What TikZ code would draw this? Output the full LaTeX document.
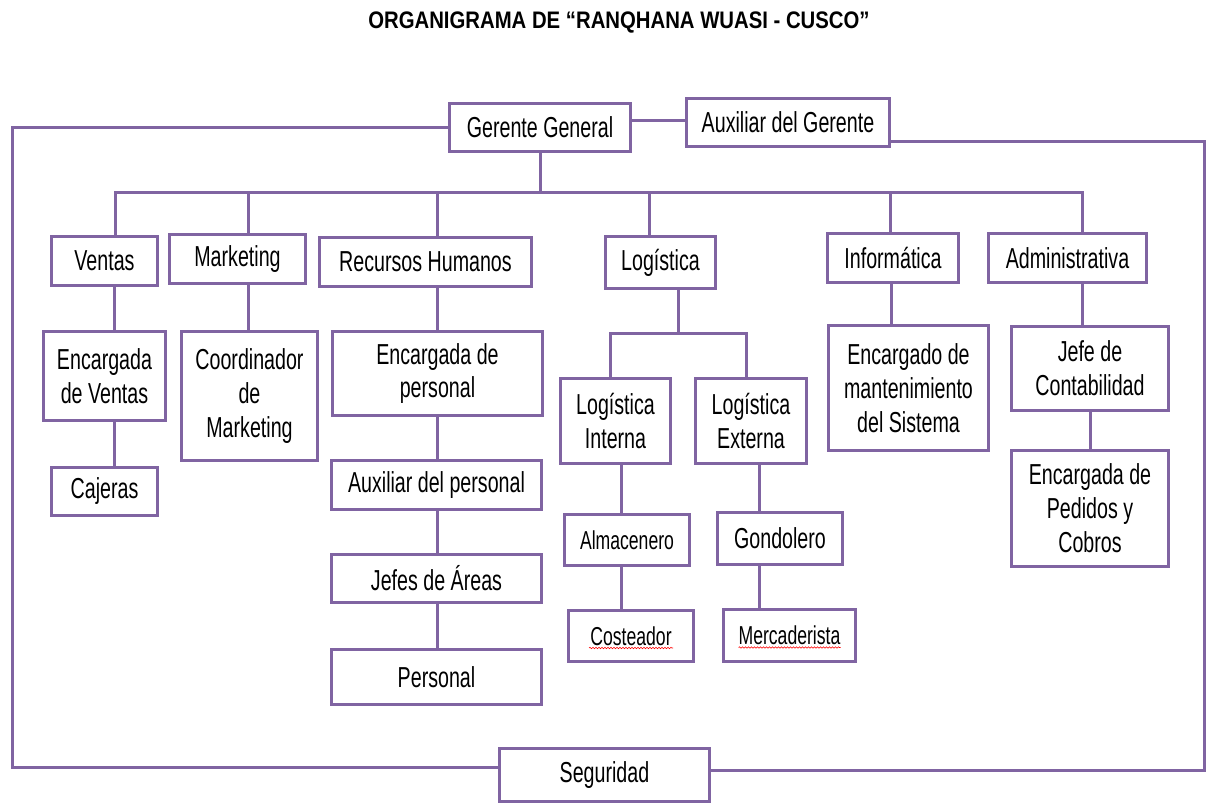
\documentclass[tikz,border=0pt]{standalone}
\usepackage{fontspec}
\setmainfont{Liberation Sans}[FakeStretch=0.68]
\newfontfamily\titlefont{Liberation Sans}[FakeStretch=0.85]
\usetikzlibrary{decorations.pathmorphing}
\definecolor{lila}{HTML}{8064A2}
\begin{document}
\begin{tikzpicture}[x=1bp,y=-1bp,
  box/.style={draw=lila, line width=3bp, inner sep=0pt, align=center,
    font=\fontsize{29}{34}\selectfont, text=black},
  sbox/.style={box, font=\fontsize{26}{30}\selectfont},
  link/.style={draw=lila, line width=3bp, line join=miter},
  wavy/.style={draw=red, line width=0.6bp, decorate,
    decoration={snake, amplitude=0.7bp, segment length=3bp}}]
\useasboundingbox (0,0) rectangle (1206,804);

\node[font=\titlefont\bfseries\fontsize{24}{28}\selectfont] (title) at (619,23)
  {ORGANIGRAMA DE “RANQHANA WUASI - CUSCO”};

% top level
\node[box, minimum width=181bp, minimum height=48bp] (gg) at (540,127.5) {Gerente General};
\node[box, minimum width=203bp, minimum height=48bp] (aux) at (788,122.5) {Auxiliar del Gerente};

% departments
\node[box, minimum width=106bp, minimum height=49bp] (ven) at (104.5,261) {Ventas};
\node[box, minimum width=136bp, minimum height=49bp] (mkt) at (237.5,259) {Marketing};
\node[box, minimum width=212bp, minimum height=49bp] (rh) at (425.5,262) {Recursos Humanos};
\node[box, minimum width=110bp, minimum height=52bp] (log) at (660.5,262.5) {Logística};
\node[box, minimum width=131bp, minimum height=49bp] (inf) at (893,258) {Informática};
\node[box, minimum width=158bp, minimum height=49bp] (adm) at (1067.5,258) {Administrativa};

% Ventas
\node[box, minimum width=122bp, minimum height=89bp] (encv) at (104.5,376) {Encargada\\de Ventas};
\node[box, minimum width=106bp, minimum height=48bp] (caj) at (104.5,491.5) {Cajeras};
% Marketing
\node[box, minimum width=136bp, minimum height=129bp] (coord) at (249.5,396) {Coordinador\\de\\Marketing};
% RRHH
\node[box, minimum width=210bp, minimum height=84bp] (encp) at (437.5,373.5) {Encargada de\\personal};
\node[box, minimum width=210bp, minimum height=49bp] (auxp) at (436.5,485) {Auxiliar del personal};
\node[box, minimum width=210bp, minimum height=48bp] (jefa) at (436.5,578.5) {Jefes de Áreas};
\node[box, minimum width=210bp, minimum height=55bp] (pers) at (436.5,677) {Personal};
% Logistica
\node[box, minimum width=110bp, minimum height=85bp] (logi) at (615.5,421) {Logística\\Interna};
\node[box, minimum width=111bp, minimum height=85bp] (loge) at (751,421) {Logística\\Externa};
\node[sbox, minimum width=125bp, minimum height=51bp] (alm) at (627,540) {Almacenero};
\node[box, minimum width=125bp, minimum height=52bp] (gon) at (780,538.5) {Gondolero};
\node[sbox, minimum width=125bp, minimum height=51bp] (cost) at (631,636) {Costeador};
\node[sbox, minimum width=132bp, minimum height=52bp] (merc) at (789.5,635.5) {Mercaderista};
% Informatica
\node[box, minimum width=160bp, minimum height=125bp] (encm) at (908.5,388) {Encargado de\\mantenimiento\\del Sistema};
% Administrativa
\node[box, minimum width=157bp, minimum height=84bp] (jefc) at (1090,368.5) {Jefe de\\Contabilidad};
\node[box, minimum width=157bp, minimum height=116bp] (ped) at (1090,508.5) {Encargada de\\Pedidos y\\Cobros};
% Seguridad
\node[box, minimum width=210bp, minimum height=53bp] (seg) at (604.5,775) {Seguridad};

% spell-check underlines
\draw[wavy] ([shift={(-42bp,-12bp)}]cost.center) -- ([shift={(42bp,-12bp)}]cost.center);
\draw[wavy] ([shift={(-51bp,-12bp)}]merc.center) -- ([shift={(51bp,-12bp)}]merc.center);

% main bus
\coordinate (bL) at (115,192);
\coordinate (bR) at (1082,192);
\coordinate (dM) at (248,192);
\coordinate (dR) at (437,192);
\coordinate (dLg) at (649,192);
\coordinate (dI) at (890,192);
\draw[link] (gg.south) -- (gg.south |- bL);
\draw[link] (ven.north -| bL) -- (bL) -- (bR) -- (adm.north -| bR);
\draw[link] (dM) -- (mkt.north -| dM);
\draw[link] (dR) -- (rh.north -| dR);
\draw[link] (dLg) -- (log.north -| dLg);
\draw[link] (dI) -- (inf.north -| dI);

% gerente - auxiliar
\coordinate (ga) at (0,120);
\draw[link] (gg.east |- ga) -- (aux.west |- ga);

% outer frame to Seguridad
\coordinate (fBL) at (12,767);
\coordinate (fTR) at (1204,141);
\coordinate (fBR) at (1204,770);
\draw[link] (gg.west) -- (gg.west -| fBL) -- (fBL) -- (fBL -| seg.west);
\draw[link] (aux.east |- fTR) -- (fTR) -- (fBR) -- (fBR -| seg.east);

% Ventas chain
\coordinate (xv) at (114,0);
\draw[link] (ven.south -| xv) -- (encv.north -| xv);
\draw[link] (encv.south -| xv) -- (caj.north -| xv);
% Marketing
\coordinate (xm) at (248,0);
\draw[link] (mkt.south -| xm) -- (coord.north -| xm);
% RRHH chain
\coordinate (xr) at (437,0);
\draw[link] (rh.south -| xr) -- (encp.north -| xr);
\draw[link] (encp.south -| xr) -- (auxp.north -| xr);
\draw[link] (auxp.south -| xr) -- (jefa.north -| xr);
\draw[link] (jefa.south -| xr) -- (pers.north -| xr);
% Logistica
\coordinate (l1) at (678,333);
\coordinate (lI) at (610,333);
\coordinate (lE) at (746,333);
\draw[link] (log.south -| l1) -- (l1);
\draw[link] (logi.north -| lI) -- (lI) -- (lE) -- (loge.north -| lE);
\coordinate (xi) at (621,0);
\draw[link] (logi.south -| xi) -- (alm.north -| xi);
\draw[link] (alm.south -| xi) -- (cost.north -| xi);
\coordinate (xe) at (759,0);
\draw[link] (loge.south -| xe) -- (gon.north -| xe);
\draw[link] (gon.south -| xe) -- (merc.north -| xe);
% Informatica
\coordinate (xf) at (891,0);
\draw[link] (inf.south -| xf) -- (encm.north -| xf);
% Administrativa
\coordinate (xa) at (1082,0);
\draw[link] (adm.south -| xa) -- (jefc.north -| xa);
\coordinate (xc) at (1090,0);
\draw[link] (jefc.south -| xc) -- (ped.north -| xc);
\end{tikzpicture}
\end{document}
